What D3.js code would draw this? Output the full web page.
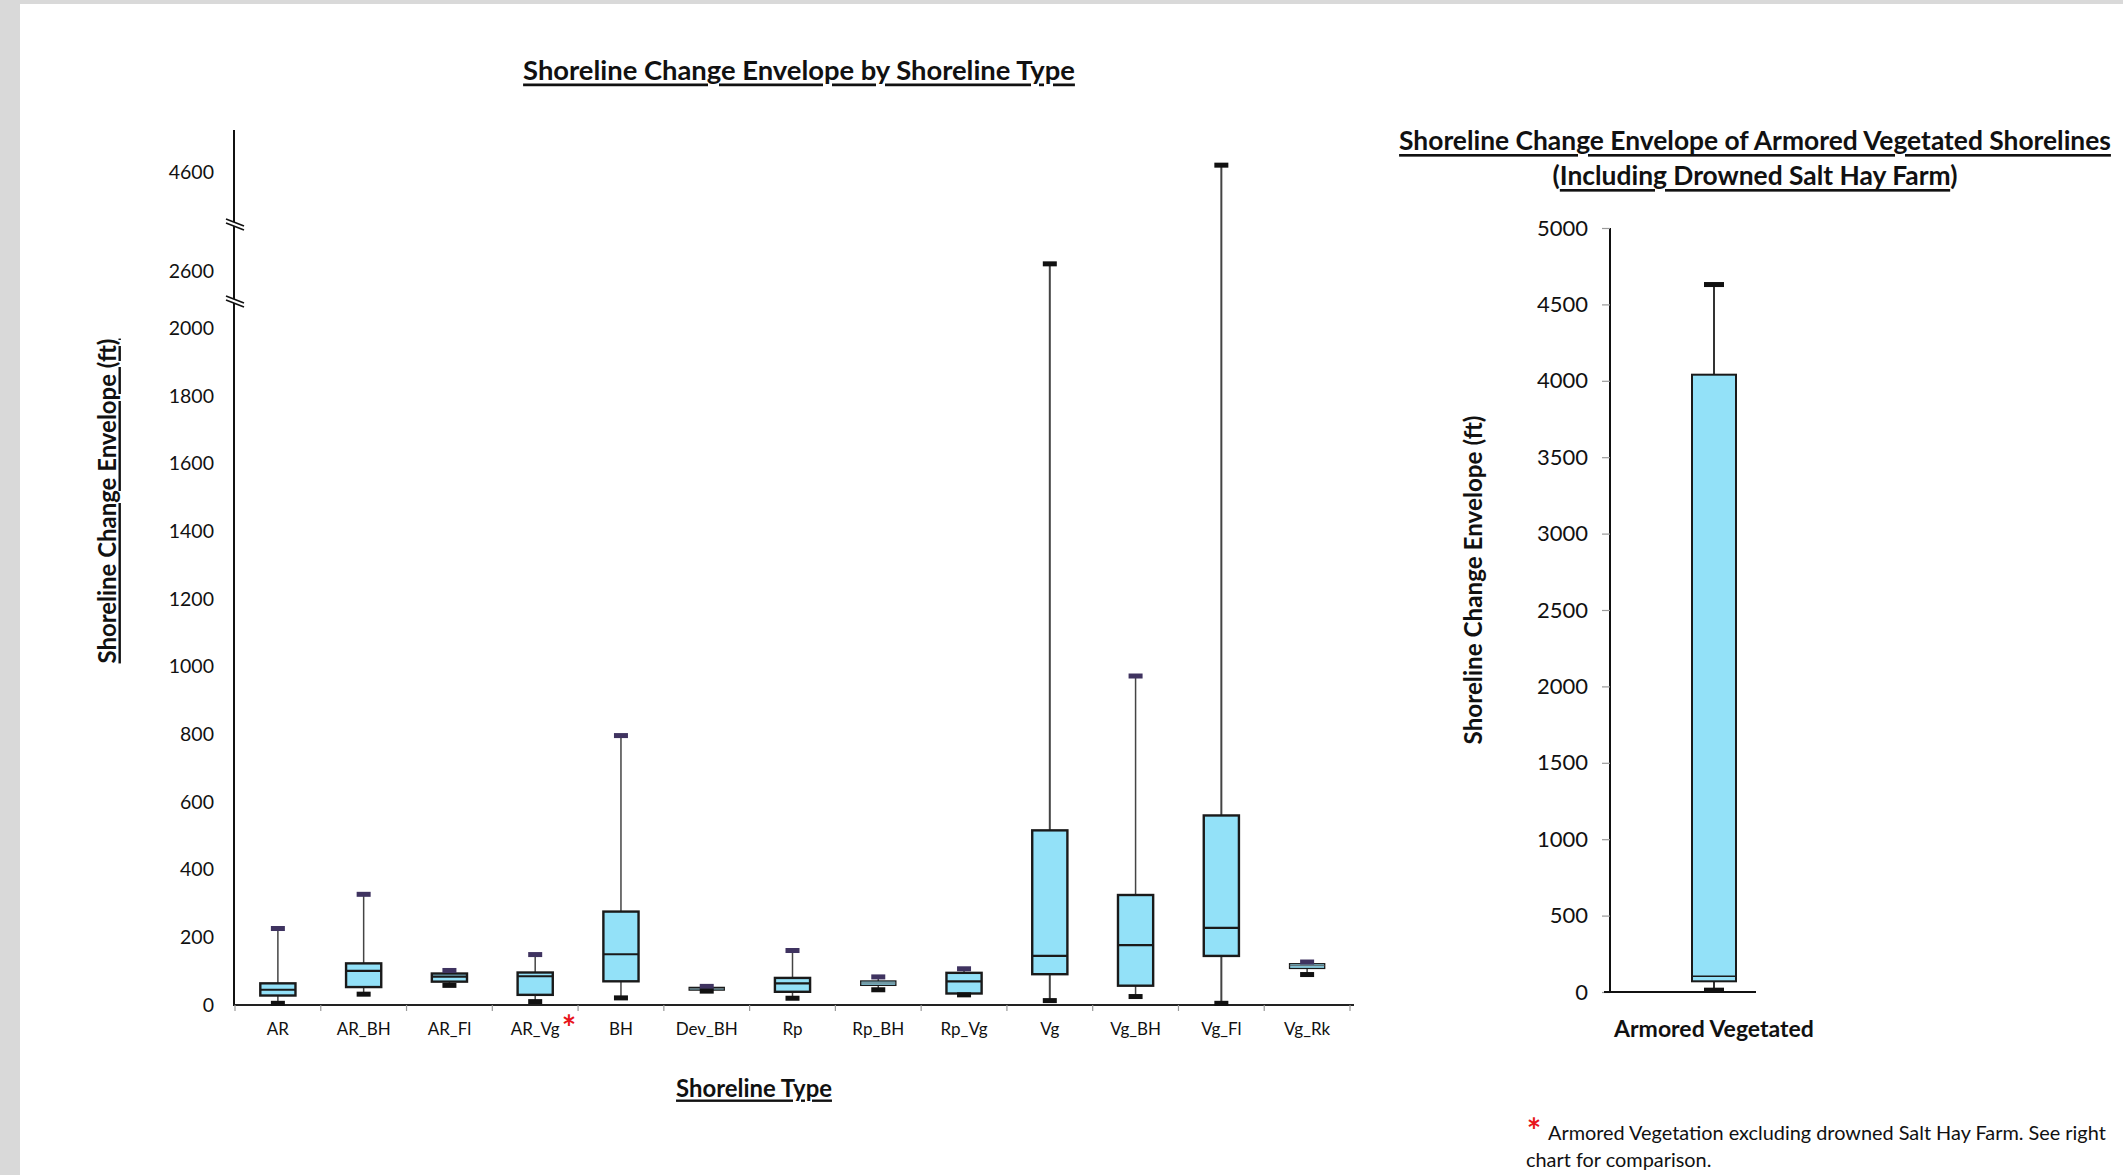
<!DOCTYPE html>
<html>
<head>
<meta charset="utf-8">
<script src="https://cdn.jsdelivr.net/npm/d3@7"></script>
<style>
  body { margin: 0; background: #fff; }
  svg { display: block; }
  text { font-family: Lato, "Open Sans", sans-serif; fill: #111; }
</style>
</head>
<body>
<div id="chart"></div>
<script>
// left chart: one box per shoreline type
const categories = ['AR', 'AR_BH', 'AR_Fl', 'AR_Vg', 'BH', 'Dev_BH', 'Rp', 'Rp_BH', 'Rp_Vg', 'Vg', 'Vg_BH', 'Vg_Fl', 'Vg_Rk'];
const whiskerLow  = [5, 32, 58, 10, 21, 41, 20, 45, 30, 13, 25, 5, 90];
const quartile1   = [28, 53, 69, 30, 70, 44, 39, 58, 34, 91, 57, 145, 108];
const medians     = [45, 101, 84, 85, 150, 48, 64, 65, 70, 145, 177, 228, 116];
const quartile3   = [64, 123, 93, 96, 276, 52, 80, 71, 95, 516, 325, 560, 122];
const whiskerHigh = [226, 327, 102, 149, 796, 55, 161, 83, 107, 2622, 972, 4620, 127];
const leftTicks = [0, 200, 400, 600, 800, 1000, 1200, 1400, 1600, 1800, 2000, 2600, 4600];

// right chart: armored vegetated incl. drowned salt hay farm
const avCategory = ['Armored Vegetated'];
const avLow = [12];
const avQ1 = [70];
const avMedian = [103];
const avQ3 = [4040];
const avHigh = [4630];
const rightTicks = [0, 500, 1000, 1500, 2000, 2500, 3000, 3500, 4000, 4500, 5000];

const width = 2123;
const height = 1175;

const svg = d3.select('#chart').append('svg')
  .attr('width', width)
  .attr('height', height);

// page frame like the screenshot
svg.append('rect').attr('width', width).attr('height', height).attr('fill', '#d9d9d9');
svg.append('rect').attr('x', 20).attr('y', 4).attr('width', width - 20).attr('height', height - 4).attr('fill', '#fff');

function fitWidth(sel, w) {
  const len = sel.node().getComputedTextLength();
  const fs = parseFloat(sel.attr('font-size'));
  sel.attr('font-size', fs * w / len);
  return fs * w / len;
}

// ---------- left chart ----------
const baseY = 1005;
const axisX = 234;
// broken axis: the gaps between segments collapse to the break marks
const yLeft = d3.scaleLinear()
  .domain([0, 2077, 2510, 2736, 4443, 4724])
  .range([baseY, 302, 302, 225, 225, 130]);

const xLeft = d3.scaleBand()
  .domain(categories)
  .range([235, 1350])
  .padding(0);

const boxW = xLeft.bandwidth() * 0.41;
const capW = 14;

const rows = categories.map((c, i) => ({
  cat: c, lo: whiskerLow[i], q1: quartile1[i], med: medians[i], q3: quartile3[i], hi: whiskerHigh[i]
}));

const left = svg.append('g').attr('class', 'left');

// y tick labels (no tick marks)
const yAxis = d3.axisLeft(yLeft).tickValues(leftTicks).tickSize(0).tickPadding(20).tickFormat(d3.format('d'));
const yAxisG = left.append('g')
  .attr('transform', `translate(${axisX},0)`)
  .call(yAxis);
yAxisG.select('.domain').remove();
yAxisG.selectAll('text')
  .attr('font-size', 19.5)
  .attr('font-family', 'Lato, sans-serif')
  .attr('fill', '#222');

// axis lines
left.append('line')
  .attr('x1', axisX).attr('x2', axisX)
  .attr('y1', 130).attr('y2', baseY + 1)
  .attr('stroke', '#111').attr('stroke-width', 2);

left.append('line')
  .attr('x1', axisX).attr('x2', 1354)
  .attr('y1', baseY).attr('y2', baseY)
  .attr('stroke', '#222').attr('stroke-width', 2.2);

// x tick marks at band edges
left.append('g')
  .selectAll('line')
  .data(categories.map(c => xLeft(c)).concat([xLeft.range()[1]]))
  .join('line')
  .attr('x1', d => d).attr('x2', d => d)
  .attr('y1', baseY).attr('y2', baseY + 6)
  .attr('stroke', '#999').attr('stroke-width', 1.2);

// break marks
[302, 225].forEach(by => {
  const bx = axisX + 1;
  left.append('path')
    .attr('d', `M${bx - 9},${by - 6} L${bx + 9},${by + 1} L${bx + 9},${by + 5} L${bx - 9},${by - 2} Z`)
    .attr('fill', '#fff');
  left.append('line')
    .attr('x1', bx - 9).attr('y1', by - 6).attr('x2', bx + 9).attr('y2', by + 1)
    .attr('stroke', '#111').attr('stroke-width', 1.6);
  left.append('line')
    .attr('x1', bx - 9).attr('y1', by - 2).attr('x2', bx + 9).attr('y2', by + 5)
    .attr('stroke', '#111').attr('stroke-width', 1.6);
});

// boxes
const boxes = left.append('g').selectAll('g')
  .data(rows)
  .join('g')
  .attr('transform', d => `translate(${xLeft(d.cat) + xLeft.bandwidth() / 2},0)`);

const small = d => d.q3 - d.q1 < 16;

boxes.append('line')
  .attr('y1', d => yLeft(d.hi)).attr('y2', d => yLeft(d.lo))
  .attr('stroke', '#444').attr('stroke-width', d => d.hi > 2000 ? 2 : 1.5);

boxes.append('rect')
  .attr('x', -boxW / 2)
  .attr('width', boxW)
  .attr('y', d => yLeft(d.q3))
  .attr('height', d => yLeft(d.q1) - yLeft(d.q3))
  .attr('fill', '#93e1f8')
  .attr('stroke', '#1a1a1a')
  .attr('stroke-width', d => small(d) ? 1.3 : 2.4);

boxes.append('line')
  .attr('x1', -boxW / 2).attr('x2', boxW / 2)
  .attr('y1', d => yLeft(d.med)).attr('y2', d => yLeft(d.med))
  .attr('stroke', d => small(d) ? '#555' : '#1a1a1a')
  .attr('stroke-width', d => small(d) ? 1 : 2.2);

boxes.append('rect')
  .attr('x', -capW / 2).attr('width', capW)
  .attr('y', d => yLeft(d.hi) - 2.5).attr('height', 5)
  .attr('fill', d => d.hi > 2000 ? '#111' : '#3f3360');

boxes.append('rect')
  .attr('x', -capW / 2).attr('width', capW)
  .attr('y', d => yLeft(d.lo) - 2.5).attr('height', 5)
  .attr('fill', '#111');

// category labels
left.append('g').selectAll('text')
  .data(categories)
  .join('text')
  .attr('x', d => xLeft(d) + xLeft.bandwidth() / 2)
  .attr('y', 1028)
  .attr('text-anchor', 'middle')
  .attr('dominant-baseline', 'central')
  .attr('font-size', 17)
  .attr('fill', '#222')
  .text(d => d);

// red asterisk next to AR_Vg
left.append('text')
  .attr('x', 569)
  .attr('y', 1040)
  .attr('text-anchor', 'middle')
  .attr('font-size', 34)
  .attr('font-family', '"DejaVu Sans", sans-serif')
  .attr('font-weight', 700)
  .style('fill', '#e8141b')
  .text('*');

// titles
const leftTitle = left.append('text')
  .attr('x', 799).attr('y', 69)
  .attr('text-anchor', 'middle').attr('dominant-baseline', 'central')
  .attr('font-size', 25).attr('font-weight', 700)
  .style('text-decoration', 'underline')
  .text('Shoreline Change Envelope by Shoreline Type');
fitWidth(leftTitle, 552);

const xTitle = left.append('text')
  .attr('x', 754).attr('y', 1087)
  .attr('text-anchor', 'middle').attr('dominant-baseline', 'central')
  .attr('font-size', 22).attr('font-weight', 700)
  .style('text-decoration', 'underline')
  .text('Shoreline Type');
fitWidth(xTitle, 156);

const yTitle = left.append('text')
  .attr('transform', 'translate(106,501) rotate(-90)')
  .attr('text-anchor', 'middle').attr('dominant-baseline', 'central')
  .attr('font-size', 22).attr('font-weight', 700)
  .style('text-decoration', 'underline')
  .text('Shoreline Change Envelope (ft)');
fitWidth(yTitle, 325);

// ---------- right chart ----------
const rAxisX = 1610;
const rBaseY = 992;
const yRight = d3.scaleLinear().domain([0, 5000]).range([rBaseY, 228]);
const xRight = d3.scaleBand().domain(avCategory).range([1610, 1818]);
const rBoxW = 44;
const rCapW = 20;

const right = svg.append('g').attr('class', 'right');

const rAxisG = right.append('g')
  .attr('transform', `translate(${rAxisX},0)`)
  .call(d3.axisLeft(yRight).tickValues(rightTicks).tickSize(8).tickPadding(14).tickFormat(d3.format('d')));
rAxisG.select('.domain').attr('stroke', '#111').attr('stroke-width', 2).attr('d', `M0,${yRight(5000)}V${rBaseY}`);
rAxisG.selectAll('.tick line').attr('stroke', '#999').attr('stroke-width', 1.2);
rAxisG.selectAll('text')
  .attr('font-size', 22)
  .attr('font-family', '"DejaVu Sans", sans-serif')
  .attr('fill', '#1a1a1a');

right.append('line')
  .attr('x1', rAxisX - 6).attr('x2', 1756)
  .attr('y1', rBaseY).attr('y2', rBaseY)
  .attr('stroke', '#111').attr('stroke-width', 2);

const rRows = avCategory.map((c, i) => ({ cat: c, lo: avLow[i], q1: avQ1[i], med: avMedian[i], q3: avQ3[i], hi: avHigh[i] }));

const rBoxes = right.append('g').selectAll('g')
  .data(rRows)
  .join('g')
  .attr('transform', d => `translate(${xRight(d.cat) + xRight.bandwidth() / 2},0)`);

rBoxes.append('line')
  .attr('y1', d => yRight(d.hi)).attr('y2', d => yRight(d.lo))
  .attr('stroke', '#333').attr('stroke-width', 2);

rBoxes.append('rect')
  .attr('x', -rBoxW / 2).attr('width', rBoxW)
  .attr('y', d => yRight(d.q3))
  .attr('height', d => yRight(d.q1) - yRight(d.q3))
  .attr('fill', '#93e1f8')
  .attr('stroke', '#1a1a1a').attr('stroke-width', 2);

rBoxes.append('line')
  .attr('x1', -rBoxW / 2).attr('x2', rBoxW / 2)
  .attr('y1', d => yRight(d.med)).attr('y2', d => yRight(d.med))
  .attr('stroke', '#1a1a1a').attr('stroke-width', 1.5);

rBoxes.append('rect')
  .attr('x', -rCapW / 2).attr('width', rCapW)
  .attr('y', d => yRight(d.hi) - 2.5).attr('height', 5)
  .attr('fill', '#111');

rBoxes.append('rect')
  .attr('x', -rCapW / 2).attr('width', rCapW)
  .attr('y', d => yRight(d.lo) - 2.5).attr('height', 5)
  .attr('fill', '#111');

right.append('g').selectAll('text')
  .data(avCategory)
  .join('text')
  .attr('x', d => xRight(d) + xRight.bandwidth() / 2)
  .attr('y', 1028)
  .attr('text-anchor', 'middle').attr('dominant-baseline', 'central')
  .attr('font-size', 22).attr('font-weight', 700)
  .text(d => d)
  .each(function () { fitWidth(d3.select(this), 200); });

const rTitle1 = right.append('text')
  .attr('x', 1755).attr('y', 140)
  .attr('text-anchor', 'middle').attr('dominant-baseline', 'central')
  .attr('font-size', 25).attr('font-weight', 700)
  .style('text-decoration', 'underline')
  .text('Shoreline Change Envelope of Armored Vegetated Shorelines');
const rTitleSize = fitWidth(rTitle1, 712);

const rTitle2 = right.append('text')
  .attr('x', 1755).attr('y', 175)
  .attr('text-anchor', 'middle').attr('dominant-baseline', 'central')
  .attr('font-size', rTitleSize).attr('font-weight', 700);
rTitle2.append('tspan').text('(');
rTitle2.append('tspan').style('text-decoration', 'underline').text('Including Drowned Salt Hay Farm');
rTitle2.append('tspan').text(')');

const rYTitle = right.append('text')
  .attr('transform', 'translate(1472,580) rotate(-90)')
  .attr('text-anchor', 'middle').attr('dominant-baseline', 'central')
  .attr('font-size', 22).attr('font-weight', 700)
  .text('Shoreline Change Envelope (ft)');
fitWidth(rYTitle, 329);

// footnote
svg.append('text')
  .attr('x', 1534).attr('y', 1143)
  .attr('text-anchor', 'middle')
  .attr('font-size', 34)
  .attr('font-family', '"DejaVu Sans", sans-serif')
  .attr('font-weight', 700)
  .style('fill', '#e8141b')
  .text('*');

const note1 = svg.append('text')
  .attr('x', 1548).attr('y', 1132)
  .attr('dominant-baseline', 'central')
  .attr('font-size', 19)
  .text('Armored Vegetation excluding drowned Salt Hay Farm. See right');
const noteSize = fitWidth(note1, 558);

svg.append('text')
  .attr('x', 1526).attr('y', 1159)
  .attr('dominant-baseline', 'central')
  .attr('font-size', noteSize)
  .text('chart for comparison.');
</script>
</body>
</html>
